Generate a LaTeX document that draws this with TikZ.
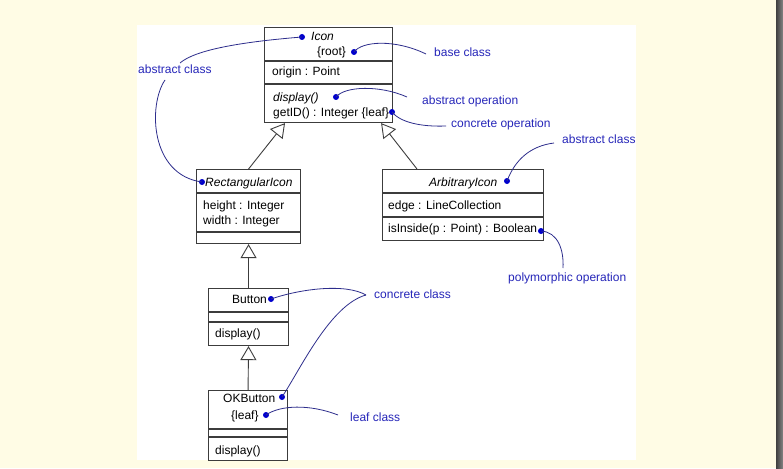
\documentclass[tikz,border=0pt]{standalone}
\usepackage{fontspec}
\setmainfont{Liberation Sans}
\usetikzlibrary{arrows.meta}
\definecolor{cream}{RGB}{255,252,229}
\definecolor{boxline}{RGB}{60,60,60}
\definecolor{notetext}{RGB}{38,38,185}
\definecolor{notecurve}{RGB}{45,45,140}
\definecolor{notedot}{RGB}{0,0,205}
\tikzset{
  classbox/.style={draw=boxline, line width=1.1pt, fill=white, anchor=north west, inner sep=0pt, minimum width=#1},
  divider/.style={draw=boxline, line width=1.1pt},
  ctext/.style={anchor=base west, inner sep=0pt, text=black, font=\fontsize{12}{14}\selectfont},
  itext/.style={ctext, font=\fontsize{12}{14}\selectfont\itshape},
  note/.style={anchor=base west, inner sep=0pt, text=notetext, font=\fontsize{12}{14}\selectfont},
  notedotstyle/.style={circle, fill=notedot, inner sep=0pt, minimum size=6pt},
  notelink/.style={draw=notecurve, line width=0.8pt},
  inherit/.style={draw=boxline, line width=0.9pt, -{Triangle[length=14pt, width=16pt, fill=white, line width=0.9pt]}}
}
\begin{document}
\begin{tikzpicture}[x=1pt, y=-1pt]
\useasboundingbox (0,0) rectangle (783,468);
% background
\fill[cream] (0,0) rectangle (783,468);
\fill[white] (137,25) rectangle (636,460);
\shade[left color=black!75, right color=black!48] (776,0) rectangle (783,468);

% class boxes
\node[classbox=128, minimum height=95] (icon) at (264,27) {};
\draw[divider] (icon.west |- 0,61) -- (icon.east |- 0,61);
\draw[divider] (icon.west |- 0,84) -- (icon.east |- 0,84);

\node[classbox=104, minimum height=74] (rect) at (196,169) {};
\draw[divider] (rect.west |- 0,193) -- (rect.east |- 0,193);
\draw[divider] (rect.west |- 0,232) -- (rect.east |- 0,232);

\node[classbox=161, minimum height=71] (arb) at (382,169) {};
\draw[divider] (arb.west |- 0,193) -- (arb.east |- 0,193);
\draw[divider] (arb.west |- 0,217) -- (arb.east |- 0,217);

\node[classbox=80, minimum height=57] (button) at (208,288) {};
\draw[divider] (button.west |- 0,312) -- (button.east |- 0,312);
\draw[divider] (button.west |- 0,322) -- (button.east |- 0,322);

\node[classbox=79, minimum height=69.5] (okb) at (208,390) {};
\draw[divider] (okb.west |- 0,429) -- (okb.east |- 0,429);
\draw[divider] (okb.west |- 0,437) -- (okb.east |- 0,437);

% class texts
\node[itext] (tIcon) at (311,41) {Icon};
\node[ctext] (tRoot) at (317,56) {\{root\}};
\node[ctext] (tOrigin) at (272,76) {origin : Point};
\node[itext] (tDisp) at (273,102) {display()};
\node[ctext] (tGet) at (273,116) {getID() : Integer \{leaf\}};

\node[itext] (tRect) at (205,186) {RectangularIcon};
\node[ctext] (tHeight) at (203,209) {height : Integer};
\node[ctext] (tWidth) at (203,224) {width : Integer};

\node[itext] (tArb) at (429,186) {ArbitraryIcon};
\node[ctext] (tEdge) at (388,209) {edge : LineCollection};
\node[ctext] (tIns) at (388,232) {isInside(p : Point) : Boolean};

\node[ctext] (tBut) at (232,303) {Button};
\node[ctext] (tBdisp) at (215,337) {display()};

\node[ctext] (tOK) at (223,402) {OKButton};
\node[ctext] (tLeaf) at (231,419) {\{leaf\}};
\node[ctext] (tOKdisp) at (215,454) {display()};

% inheritance
\draw[inherit] (rect.north) -- ([xshift=21pt]icon.south west);
\draw[inherit] ([xshift=35pt]arb.north west) -- ([xshift=-12pt]icon.south east);
\draw[inherit] (button.north) -- (rect.south);
\draw[inherit] (okb.north) -- (button.south);

% annotation labels
\node[note] (nAbsL) at (138,74) {abstract class};
\node[note] (nBase) at (434,57) {base class};
\node[note] (nAbsOp) at (422,104) {abstract operation};
\node[note] (nConOp) at (451,128) {concrete operation};
\node[note] (nAbsR) at (562,143) {abstract class};
\node[note] (nPoly) at (508,281) {polymorphic operation};
\node[note] (nConC) at (374,298) {concrete class};
\node[note] (nLeafC) at (350,421) {leaf class};

% curve end points near labels
\coordinate (eAbsL1) at (180,63);
\coordinate (eAbsL2) at (165,80);
\coordinate (eBase) at (426,54);
\coordinate (eAbsOp) at (407,97);
\coordinate (eConOp) at (446,126);
\coordinate (eAbsR) at (554,143);
\coordinate (ePoly) at (563,268);
\coordinate (eConC) at (366,295);
\coordinate (eLeafC) at (338,415);

% dots
\node[notedotstyle] (dIcon) at (302,37) {};
\node[notedotstyle] (dRoot) at (354,52) {};
\node[notedotstyle] (dDisp) at (336,97) {};
\node[notedotstyle] (dGet) at (392,112) {};
\node[notedotstyle] (dRect) at (202,182) {};
\node[notedotstyle] (dArb) at (507,181) {};
\node[notedotstyle] (dIns) at (541,231) {};
\node[notedotstyle] (dBut) at (271,299) {};
\node[notedotstyle] (dOK) at (282,397) {};
\node[notedotstyle] (dLeaf) at (266,415) {};

% annotation curves
\draw[notelink] (dIcon.center) .. controls (240,42) and (195,50) .. (eAbsL1);
\draw[notelink] (eAbsL2) .. controls (148,105) and (150,175) .. (dRect.center);
\draw[notelink] (dRoot.center) .. controls (362,41) and (395,39) .. (eBase);
\draw[notelink] (dDisp.center) .. controls (345,86) and (380,85) .. (eAbsOp);
\draw[notelink] (dGet.center) .. controls (400,122) and (420,127) .. (eConOp);
\draw[notelink] (dArb.center) .. controls (515,160) and (530,146) .. (eAbsR);
\draw[notelink] (dIns.center) .. controls (558,232) and (564,250) .. (ePoly);
\draw[notelink] (dBut.center) .. controls (300,289) and (345,283) .. (eConC);
\draw[notelink] (eConC) .. controls (330,305) and (300,370) .. (dOK.center);
\draw[notelink] (dLeaf.center) .. controls (280,405) and (310,404) .. (eLeafC);
\end{tikzpicture}
\end{document}
